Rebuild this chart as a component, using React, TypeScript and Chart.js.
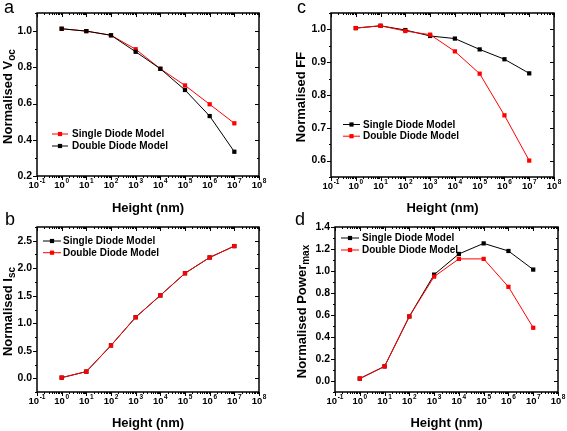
import React, { useEffect, useRef } from 'react';
import { Chart, registerables } from 'chart.js';
Chart.register(...registerables);

const heights = [1, 10, 100, 1e3, 1e4, 1e5, 1e6, 1e7];
const xTickValues = [0.1, 1, 10, 100, 1e3, 1e4, 1e5, 1e6, 1e7, 1e8];
const xTickBase = ['10', '10', '10', '10', '10', '10', '10', '10', '10', '10'];
const xTickExp = ['-1', '0', '1', '2', '3', '4', '5', '6', '7', '8'];

const vocSingle = [1.013, 1.0, 0.977, 0.9, 0.792, 0.7, 0.596, 0.491];
const vocDouble = [1.013, 1.0, 0.977, 0.886, 0.792, 0.675, 0.531, 0.334];
const vocTicks = [0.2, 0.4, 0.6, 0.8, 1.0];
const vocMinor = [0.3, 0.5, 0.7, 0.9, 1.1];

const iscSingle = [0.011, 0.121, 0.597, 1.109, 1.506, 1.909, 2.196, 2.403];
const iscDouble = [0.011, 0.121, 0.597, 1.109, 1.506, 1.909, 2.196, 2.403];
const iscTicks = [0.0, 0.5, 1.0, 1.5, 2.0, 2.5];
const iscMinor = [-0.25, 0.25, 0.75, 1.25, 1.75, 2.25, 2.75];

const ffSingle = [1.004, 1.011, 0.998, 0.98, 0.972, 0.939, 0.909, 0.866];
const ffDouble = [1.004, 1.011, 0.995, 0.984, 0.933, 0.865, 0.738, 0.6];
const ffTicks = [0.6, 0.7, 0.8, 0.9, 1.0];
const ffMinor = [0.55, 0.65, 0.75, 0.85, 0.95, 1.05];

const pSingle = [0.022, 0.133, 0.587, 0.967, 1.155, 1.251, 1.182, 1.013];
const pDouble = [0.022, 0.133, 0.587, 0.949, 1.11, 1.11, 0.856, 0.484];
const pTicks = [0.0, 0.2, 0.4, 0.6, 0.8, 1.0, 1.2, 1.4];
const pMinor = [-0.1, 0.1, 0.3, 0.5, 0.7, 0.9, 1.1, 1.3];

const RED = '#ff0000';
const BLACK = '#000000';
const FONT = '"Liberation Sans", Arial, "DejaVu Sans", sans-serif';

type Panel = {
  key: string;
  letter: string;
  box: { x: number; y: number; w: number; h: number };
  area: { l: number; t: number; r: number; b: number };
  yMin: number;
  yMax: number;
  yTicks: number[];
  yMinor: number[];
  series: { label: string; data: number[]; color: string }[];
  yTitle: { main: string; sub: string; x: number };
  xTitleY: number;
  letterPos: { x: number; y: number };
  legend: { x1: number; x2: number; tx: number; y: number; dy: number };
};

const panels: Panel[] = [
  {
    key: 'a', letter: 'a',
    box: { x: 0, y: 0, w: 283, h: 216 },
    area: { l: 37, t: 13, r: 259, b: 176 },
    yMin: 0.2, yMax: 1.1, yTicks: vocTicks, yMinor: vocMinor,
    series: [
      { label: 'Single Diode Model', data: vocSingle, color: RED },
      { label: 'Double Diode Model', data: vocDouble, color: BLACK },
    ],
    yTitle: { main: 'Normalised V', sub: 'oc', x: 12 },
    xTitleY: 211.5,
    letterPos: { x: 4, y: 13 },
    legend: { x1: 52, x2: 68, tx: 72, y: 134, dy: 12 },
  },
  {
    key: 'c', letter: 'c',
    box: { x: 283, y: 0, w: 284, h: 216 },
    area: { l: 48, t: 13, r: 271, b: 177 },
    yMin: 0.55, yMax: 1.05, yTicks: ffTicks, yMinor: ffMinor,
    series: [
      { label: 'Single Diode Model', data: ffSingle, color: BLACK },
      { label: 'Double Diode Model', data: ffDouble, color: RED },
    ],
    yTitle: { main: 'Normalised FF', sub: '', x: 22 },
    xTitleY: 211.5,
    letterPos: { x: 14, y: 13 },
    legend: { x1: 60, x2: 77, tx: 80, y: 124.5, dy: 11.7 },
  },
  {
    key: 'b', letter: 'b',
    box: { x: 0, y: 205, w: 283, h: 226 },
    area: { l: 37, t: 22, r: 259, b: 187 },
    yMin: -0.25, yMax: 2.75, yTicks: iscTicks, yMinor: iscMinor,
    series: [
      { label: 'Single Diode Model', data: iscSingle, color: BLACK },
      { label: 'Double Diode Model', data: iscDouble, color: RED },
    ],
    yTitle: { main: 'Normalised I', sub: 'sc', x: 12 },
    xTitleY: 221.5,
    letterPos: { x: 5, y: 20 },
    legend: { x1: 43, x2: 61, tx: 63, y: 36, dy: 11.7 },
  },
  {
    key: 'd', letter: 'd',
    box: { x: 283, y: 205, w: 284, h: 226 },
    area: { l: 52, t: 22, r: 275, b: 187 },
    yMin: -0.1, yMax: 1.4, yTicks: pTicks, yMinor: pMinor,
    series: [
      { label: 'Single Diode Model', data: pSingle, color: BLACK },
      { label: 'Double Diode Model', data: pDouble, color: RED },
    ],
    yTitle: { main: 'Normalised Power', sub: 'max', x: 23 },
    xTitleY: 221.5,
    letterPos: { x: 12, y: 20 },
    legend: { x1: 58, x2: 76, tx: 79, y: 33, dy: 12 },
  },
];

const decorPlugin = {
  id: 'decor',
  afterDraw(chart: any, _args: any, opts: any) {
    const p: Panel = opts.panel;
    const ctx = chart.ctx;
    const { left, right, top, bottom } = chart.chartArea;
    const xs = chart.scales.x;
    const ys = chart.scales.y;
    ctx.save();
    ctx.strokeStyle = '#000';
    ctx.fillStyle = '#000';
    // frame
    ctx.lineWidth = 1.5;
    ctx.strokeRect(left, top, right - left, bottom - top);
    ctx.lineWidth = 1;
    const line = (x1: number, y1: number, x2: number, y2: number) => {
      ctx.beginPath();
      ctx.moveTo(x1, y1);
      ctx.lineTo(x2, y2);
      ctx.stroke();
    };
    // x ticks
    for (let k = -1; k <= 8; k++) {
      const xv = Math.pow(10, k);
      const px = Math.round(xs.getPixelForValue(xv)) + 0.5;
      line(px, bottom, px, bottom + 4);
      line(px, top, px, top + 4);
      if (k < 8) {
        for (let m = 2; m <= 9; m++) {
          const mx = Math.round(xs.getPixelForValue(m * xv)) + 0.5;
          line(mx, bottom, mx, bottom + 2);
          line(mx, top, mx, top + 2);
        }
      }
    }
    // x tick labels: 10 with superscript exponent
    const baseFont = `bold 9.5px ${FONT}`;
    const expFont = `bold 6.5px ${FONT}`;
    ctx.textBaseline = 'alphabetic';
    ctx.textAlign = 'left';
    xTickValues.forEach((v, i) => {
      const px = xs.getPixelForValue(v);
      ctx.font = baseFont;
      const wb = ctx.measureText(xTickBase[i]).width;
      ctx.font = expFont;
      const we = ctx.measureText(xTickExp[i]).width;
      const x0 = px - (wb + we + 0.5) / 2;
      ctx.font = baseFont;
      ctx.fillText(xTickBase[i], x0, bottom + 11.5);
      ctx.font = expFont;
      ctx.fillText(xTickExp[i], x0 + wb + 0.5, bottom + 7);
    });
    // y ticks
    p.yTicks.forEach((v) => {
      const py = Math.round(ys.getPixelForValue(v)) + 0.5;
      line(left - 4, py, left, py);
      line(right - 4, py, right, py);
    });
    p.yMinor.forEach((v) => {
      const py = Math.round(ys.getPixelForValue(v)) + 0.5;
      line(left - 2, py, left, py);
      line(right - 2, py, right, py);
    });
    // legend
    const lg = p.legend;
    chart.data.datasets.forEach((ds: any, i: number) => {
      const y = lg.y + i * lg.dy;
      ctx.strokeStyle = ds.borderColor;
      ctx.fillStyle = ds.borderColor;
      ctx.lineWidth = 1;
      line(lg.x1, y, lg.x2, y);
      const cx = (lg.x1 + lg.x2) / 2;
      ctx.fillRect(cx - 2.1, y - 2.1, 4.2, 4.2);
      ctx.fillStyle = '#000';
      ctx.font = `bold 10px ${FONT}`;
      ctx.textBaseline = 'middle';
      ctx.textAlign = 'left';
      ctx.fillText(ds.label, lg.tx, y + 0.5);
    });
    // x title
    ctx.fillStyle = '#000';
    ctx.font = `bold 13px ${FONT}`;
    ctx.textAlign = 'center';
    ctx.textBaseline = 'alphabetic';
    ctx.fillText('Height (nm)', (left + right) / 2, p.xTitleY);
    // y title
    const mainFont = `bold 13px ${FONT}`;
    const subFont = `bold 10px ${FONT}`;
    ctx.font = mainFont;
    const wMain = ctx.measureText(p.yTitle.main).width;
    ctx.font = subFont;
    const wSub = p.yTitle.sub ? ctx.measureText(p.yTitle.sub).width : 0;
    const total = wMain + wSub;
    ctx.translate(p.yTitle.x, (top + bottom) / 2 + 2);
    ctx.rotate(-Math.PI / 2);
    ctx.textAlign = 'left';
    ctx.font = mainFont;
    ctx.fillText(p.yTitle.main, -total / 2, 0);
    if (p.yTitle.sub) {
      ctx.font = subFont;
      ctx.fillText(p.yTitle.sub, -total / 2 + wMain, 3);
    }
    ctx.setTransform(1, 0, 0, 1, 0, 0);
    // panel letter
    ctx.font = `18px ${FONT}`;
    ctx.textAlign = 'left';
    ctx.fillText(p.letter, p.letterPos.x, p.letterPos.y);
    ctx.restore();
  },
};

function PanelChart({ panel }: { panel: Panel }) {
  const ref = useRef<HTMLCanvasElement | null>(null);
  useEffect(() => {
    if (!ref.current) return;
    const { box, area } = panel;
    const chart = new Chart(ref.current, {
      type: 'line',
      data: {
        datasets: panel.series.map((s, i) => ({
          label: s.label,
          data: heights.map((h, j) => ({ x: h, y: s.data[j] })),
          borderColor: s.color,
          backgroundColor: s.color,
          borderWidth: 1,
          pointStyle: 'rect',
          pointRadius: 3,
          pointBorderWidth: 0,
          pointBackgroundColor: s.color,
          order: i === 0 ? 1 : 0,
          tension: 0,
        })),
      },
      options: {
        animation: false,
        responsive: false,
        maintainAspectRatio: false,
        layout: { padding: { left: 0, top: area.t, right: box.w - area.r, bottom: 0 } },
        plugins: {
          legend: { display: false },
          tooltip: { enabled: false },
          decor: { panel },
        } as any,
        scales: {
          x: {
            type: 'logarithmic',
            min: 0.1,
            max: 1e8,
            grid: { display: false, drawTicks: false, tickLength: 0 },
            border: { display: false },
            afterBuildTicks: (s: any) => {
              s.ticks = xTickValues.map((v) => ({ value: v, major: true }));
            },
            afterFit: (s: any) => {
              s.height = box.h - area.b;
            },
            ticks: { display: false },
          },
          y: {
            type: 'linear',
            min: panel.yMin,
            max: panel.yMax,
            grid: { display: false, drawTicks: false, tickLength: 0 },
            border: { display: false },
            afterBuildTicks: (s: any) => {
              s.ticks = panel.yTicks.map((v) => ({ value: v }));
            },
            afterFit: (s: any) => {
              s.width = area.l;
            },
            ticks: {
              padding: 5,
              color: '#000',
              font: { family: FONT, size: 10.5, weight: 'bold' },
              callback: (v: any) => Number(v).toFixed(1),
            },
          },
        },
      } as any,
      plugins: [decorPlugin],
    });
    return () => chart.destroy();
  }, [panel]);
  return (
    <canvas
      ref={ref}
      width={panel.box.w}
      height={panel.box.h}
      style={{
        position: 'absolute',
        left: panel.box.x,
        top: panel.box.y,
        width: panel.box.w,
        height: panel.box.h,
      }}
    />
  );
}

export default function App() {
  return (
    <div
      style={{
        position: 'absolute',
        left: 0,
        top: 0,
        width: 567,
        height: 431,
        background: '#fff',
        overflow: 'hidden',
      }}
    >
      {panels.map((p) => (
        <PanelChart key={p.key} panel={p} />
      ))}
    </div>
  );
}
